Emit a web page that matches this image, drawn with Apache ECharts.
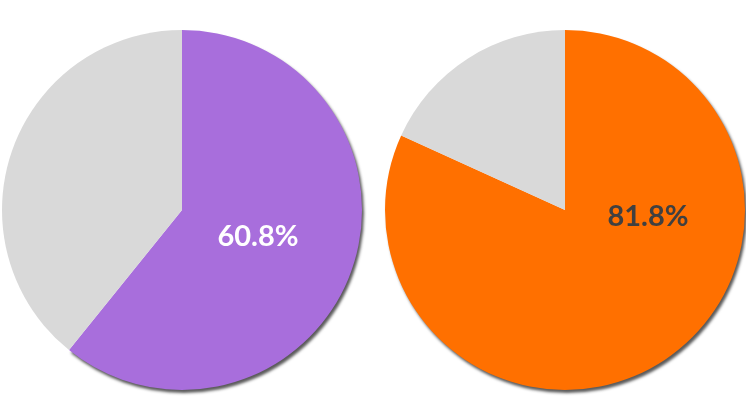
<!DOCTYPE html>
<html><head><meta charset="utf-8">
<script src="https://cdn.jsdelivr.net/npm/echarts@6/dist/echarts.min.js"></script>
<style>html,body{margin:0;padding:0;background:#fff}#c{width:746px;height:410px}</style>
</head><body><div id="c"></div>
<script>
const names = ['Share', 'Rest'];
const leftValues = [60.8, 39.2];
const rightValues = [81.8, 18.2];
const colors = ['#A86EDC', '#FF7000'];
const restColor = '#D9D9D9';
const labelColors = ['#FFFFFF', '#404040'];

const chart = echarts.init(document.getElementById('c'), null, {renderer: 'canvas'});
const centers = [[182, 210], [565, 210]];
const labelOffsets = [[76, 27], [83, 7]];
const radius = 180;

function pie(vals, i) {
  return {
    type: 'pie', center: centers[i], radius: [0, radius], startAngle: 90, clockwise: true,
    silent: true, animation: false, label: {show: false}, labelLine: {show: false},
    data: [
      {name: names[0], value: vals[0], itemStyle: {color: colors[i], shadowColor: 'rgba(0,0,0,0.65)', shadowBlur: 3, shadowOffsetX: 2, shadowOffsetY: 3}},
      {name: names[1], value: vals[1], itemStyle: {color: restColor}}
    ]
  };
}
const vals = [leftValues, rightValues];
chart.setOption({
  animation: false,
  series: [pie(leftValues, 0), pie(rightValues, 1)],
  graphic: vals.map((v, i) => ({
    type: 'text', x: centers[i][0] + labelOffsets[i][0], y: centers[i][1] + labelOffsets[i][1], z: 100,
    style: {text: v[0].toFixed(1) + '%', fill: labelColors[i], font: 'bold 29px Lato, "Noto Sans", sans-serif', align: 'center', verticalAlign: 'middle'}
  }))
});
</script></body></html>
